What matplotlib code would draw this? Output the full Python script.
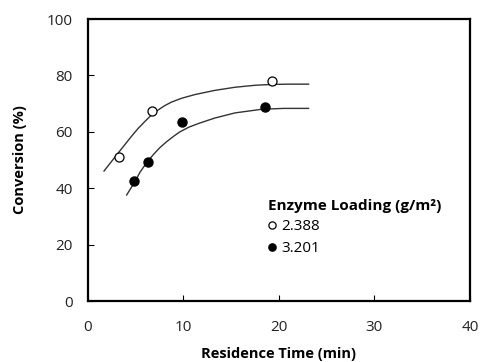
import matplotlib.pyplot as plt

plt.rcParams['font.family'] = ['Open Sans', 'DejaVu Sans']

# measured points
t_low = [3.25, 6.67, 19.3]
conv_low = [51.0, 67.5, 77.9]
t_high = [4.85, 6.31, 9.81, 18.5]
conv_high = [42.4, 49.4, 63.6, 68.8]

# trend curves
curve_low_t = [1.68, 2.4, 3.14, 3.85, 4.53, 5.2, 5.94, 6.6, 7.33, 8.0, 8.72,
               9.81, 11.2, 13.3, 15.4, 17.5, 19.2, 21.0, 23.1]
curve_low_c = [46.1, 49.2, 52.4, 55.4, 58.3, 61.0, 63.6, 65.8, 67.7, 69.2, 70.5,
               71.9, 73.2, 74.7, 75.8, 76.5, 76.8, 76.9, 76.9]
curve_high_t = [4.05, 4.9, 5.45, 6.2, 6.84, 7.5, 8.24, 9.0, 9.63, 10.6, 11.7,
                13.3, 15.4, 18.2, 20.5, 23.1]
curve_high_c = [37.6, 42.2, 45.7, 49.3, 51.9, 54.3, 56.5, 58.5, 60.0, 61.7, 63.1,
                64.9, 66.7, 68.0, 68.3, 68.3]

fig = plt.figure(figsize=(4.8, 3.62), dpi=100)
ax = fig.add_axes([0.1833, 0.1685, 0.7957, 0.779])

ax.plot(curve_low_t, curve_low_c, color='#333333', lw=1.0, zorder=1)
ax.plot(curve_high_t, curve_high_c, color='#333333', lw=1.0, zorder=1)
ax.plot(t_low, conv_low, 'o', mfc='white', mec='black', mew=0.9, ms=6.5,
        label='2.388', zorder=3)
ax.plot(t_high, conv_high, 'o', mfc='black', mec='black', ms=6.5,
        label='3.201', zorder=3)

ax.set_xlim(0, 40)
ax.set_ylim(0, 100)
ax.set_xticks([0, 10, 20, 30, 40])
ax.set_yticks([0, 20, 40, 60, 80, 100])
ax.tick_params(direction='in', length=4, width=0.8, labelsize=11,
               colors='black', labelcolor='#222222')
ax.tick_params(axis='y', pad=11)
ax.tick_params(axis='x', pad=14)
for s in ax.spines.values():
    s.set_linewidth(1.6)

ax.set_xlabel('Residence Time (min)', fontsize=10.5, fontweight='bold', labelpad=8)
ax.set_ylabel('Conversion (%)', fontsize=10.5, fontweight='bold', labelpad=14)

leg = ax.legend(title='Enzyme Loading (g/m²)', frameon=False, fontsize=11,
                title_fontproperties={'weight': 'bold', 'size': 11},
                loc='upper left', bbox_to_anchor=(0.455, 0.385),
                handlelength=0.6, handletextpad=0.3, markerscale=0.8,
                labelspacing=0.45, borderaxespad=0)
leg._legend_box.align = 'left'

fig.savefig('out.png', dpi=100)
